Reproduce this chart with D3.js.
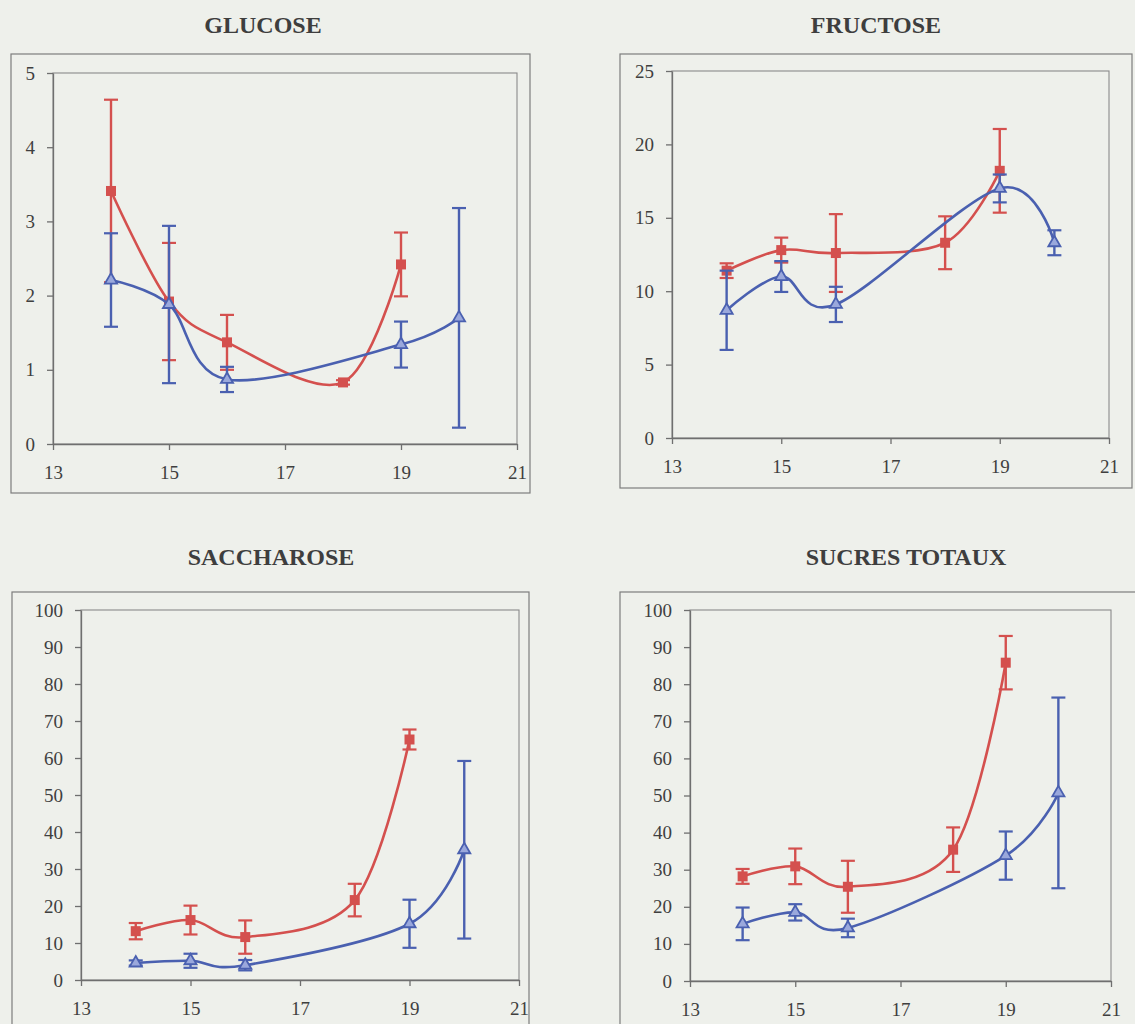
<!DOCTYPE html>
<html>
<head>
<meta charset="utf-8">
<script src="https://cdn.jsdelivr.net/npm/d3@7"></script>
<style>
  html, body { margin: 0; padding: 0; background: #eef0eb; }
  svg { display: block; }
  .title { font-family: "Liberation Serif", "Times New Roman", serif; font-weight: bold; font-size: 24px; fill: #3e3e3e; }
  .axis text { font-family: "Liberation Serif", "Times New Roman", serif; font-size: 19px; fill: #3f3f3f; }
  .axis path, .axis line { stroke: #6f6f6f; stroke-width: 1.3; }
</style>
</head>
<body>
<svg id="chart" width="1135" height="1024"></svg>
<script>
// Sampling days (x) for each series
const redDays = [14, 15, 16, 18, 19];
const blueDays = [14, 15, 16, 19, 20];
const xTicks = [13, 15, 17, 19, 21];

// GLUCOSE
const glucoseRed = [3.41, 1.92, 1.37, 0.83, 2.42];
const glucoseRedErr = [1.23, 0.79, 0.37, 0.03, 0.43];
const glucoseBlue = [2.21, 1.88, 0.87, 1.34, 1.70];
const glucoseBlueErr = [0.63, 1.06, 0.17, 0.31, 1.48];
const glucoseTicks = [0, 1, 2, 3, 4, 5];

// FRUCTOSE
const fructoseRed = [11.4, 12.8, 12.6, 13.3, 18.2];
const fructoseRedErr = [0.5, 0.85, 2.65, 1.8, 2.85];
const fructoseBlue = [8.7, 11.0, 9.1, 17.0, 13.3];
const fructoseBlueErr = [2.7, 1.05, 1.2, 0.95, 0.85];
const fructoseTicks = [0, 5, 10, 15, 20, 25];

// SACCHAROSE
const saccharoseRed = [13.2, 16.2, 11.6, 21.6, 65.0];
const saccharoseRedErr = [2.2, 3.9, 4.5, 4.4, 2.7];
const saccharoseBlue = [4.6, 5.2, 4.0, 15.2, 35.2];
const saccharoseBlueErr = [0.7, 1.9, 1.4, 6.5, 24.0];
const percentTicks = [0, 10, 20, 30, 40, 50, 60, 70, 80, 90, 100];

// SUCRES TOTAUX
const totalRed = [28.2, 30.9, 25.4, 35.4, 85.8];
const totalRedErr = [2.0, 4.8, 7.0, 6.0, 7.2];
const totalBlue = [15.4, 18.5, 14.3, 33.8, 50.7];
const totalBlueErr = [4.4, 2.2, 2.5, 6.5, 25.7];

const RED = "#d4504e";
const BLUE = "#4a60b0";

function pts(days, vals, errs) {
  return days.map((d, i) => ({ x: d, y: vals[i], e: errs[i] }));
}

const panels = [
  { title: "GLUCOSE", tx: 263, ty: 33, frame: [11, 54, 530, 493], plot: [53, 73, 517, 444],
    yMax: 5, yTicks: glucoseTicks,
    red: pts(redDays, glucoseRed, glucoseRedErr), blue: pts(blueDays, glucoseBlue, glucoseBlueErr) },
  { title: "FRUCTOSE", tx: 876, ty: 33, frame: [620, 54, 1132, 488], plot: [672, 71, 1109, 438],
    yMax: 25, yTicks: fructoseTicks,
    red: pts(redDays, fructoseRed, fructoseRedErr), blue: pts(blueDays, fructoseBlue, fructoseBlueErr) },
  { title: "SACCHAROSE", tx: 271, ty: 565, frame: [12, 592, 529, 1030], plot: [81, 610, 519, 980],
    yMax: 100, yTicks: percentTicks,
    red: pts(redDays, saccharoseRed, saccharoseRedErr), blue: pts(blueDays, saccharoseBlue, saccharoseBlueErr) },
  { title: "SUCRES TOTAUX", tx: 906, ty: 565, frame: [620, 592, 1136, 1030], plot: [690, 610, 1111, 981],
    yMax: 100, yTicks: percentTicks,
    red: pts(redDays, totalRed, totalRedErr), blue: pts(blueDays, totalBlue, totalBlueErr) }
];

const svg = d3.select("#chart");

panels.forEach(p => {
  const [fx0, fy0, fx1, fy1] = p.frame;
  const [px0, py0, px1, py1] = p.plot;

  // outer chart border
  svg.append("rect")
    .attr("x", fx0).attr("y", fy0)
    .attr("width", fx1 - fx0).attr("height", fy1 - fy0)
    .attr("fill", "none").attr("stroke", "#7d7d7d").attr("stroke-width", 1.2);

  svg.append("text").attr("class", "title")
    .attr("x", p.tx).attr("y", p.ty)
    .attr("text-anchor", "middle")
    .text(p.title);

  const x = d3.scaleLinear().domain([13, 21]).range([px0, px1]);
  const y = d3.scaleLinear().domain([0, p.yMax]).range([py1, py0]);

  // plot area border
  svg.append("rect")
    .attr("x", px0).attr("y", py0)
    .attr("width", px1 - px0).attr("height", py1 - py0)
    .attr("fill", "none").attr("stroke", "#8a8a8a").attr("stroke-width", 1.1);

  svg.append("g").attr("class", "axis")
    .attr("transform", `translate(0,${py1})`)
    .call(d3.axisBottom(x).tickValues(xTicks).tickFormat(d3.format("d"))
      .tickSize(6).tickPadding(16).tickSizeOuter(0));

  svg.append("g").attr("class", "axis")
    .attr("transform", `translate(${px0},0)`)
    .call(d3.axisLeft(y).tickValues(p.yTicks).tickFormat(d3.format("d"))
      .tickSize(6).tickPadding(12).tickSizeOuter(0));

  // smoothed line (cubic Bezier through the points, Catmull-Rom style)
  const line = d3.line()
    .x(d => x(d.x)).y(d => y(d.y))
    .curve(d3.curveCardinal.tension(0));

  const drawSeries = (data, color, marker) => {
    const g = svg.append("g");
    g.append("path").datum(data)
      .attr("d", line)
      .attr("fill", "none").attr("stroke", color).attr("stroke-width", 2.6);

    const eb = g.selectAll(".eb").data(data).enter().append("g");
    eb.append("line")
      .attr("x1", d => x(d.x)).attr("x2", d => x(d.x))
      .attr("y1", d => y(d.y - d.e)).attr("y2", d => y(d.y + d.e))
      .attr("stroke", color).attr("stroke-width", 2.4);
    [-1, 1].forEach(s => {
      eb.append("line")
        .attr("x1", d => x(d.x) - 7).attr("x2", d => x(d.x) + 7)
        .attr("y1", d => y(d.y + s * d.e)).attr("y2", d => y(d.y + s * d.e))
        .attr("stroke", color).attr("stroke-width", 2.2);
    });

    if (marker === "square") {
      g.selectAll(".mk").data(data).enter().append("rect")
        .attr("x", d => x(d.x) - 5).attr("y", d => y(d.y) - 5)
        .attr("width", 10).attr("height", 10)
        .attr("fill", color);
    } else {
      const tri = d3.symbol().type(d3.symbolTriangle).size(64);
      g.selectAll(".mk").data(data).enter().append("path")
        .attr("d", tri)
        .attr("transform", d => `translate(${x(d.x)},${y(d.y)})`)
        .attr("fill", "#9aa8dc").attr("stroke", color).attr("stroke-width", 1.8);
    }
  };

  drawSeries(p.red, RED, "square");
  drawSeries(p.blue, BLUE, "triangle");
});
</script>
</body>
</html>
